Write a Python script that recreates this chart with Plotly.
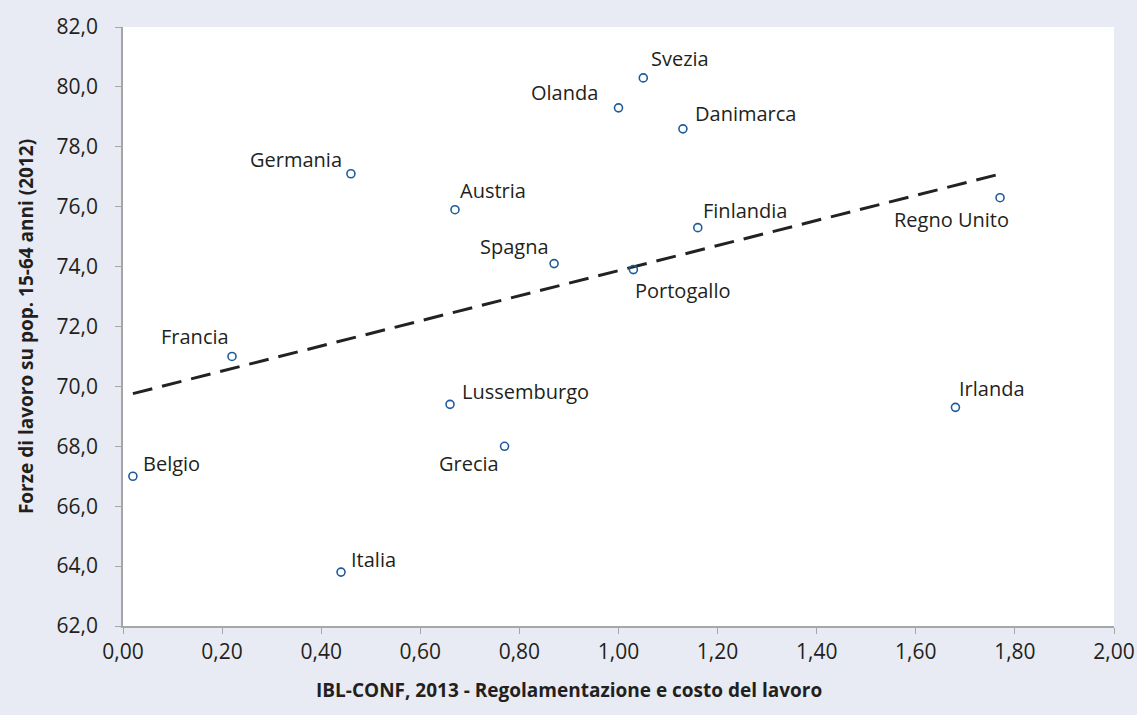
import numpy as np
import plotly.graph_objects as go

countries = ["Svezia", "Olanda", "Danimarca", "Germania", "Austria", "Spagna", "Portogallo",
             "Finlandia", "Regno Unito", "Irlanda", "Francia", "Belgio", "Lussemburgo",
             "Grecia", "Italia"]
ibl_conf = [1.05, 1.00, 1.13, 0.46, 0.67, 0.87, 1.03, 1.16, 1.77, 1.68, 0.22, 0.02, 0.66, 0.77, 0.44]
forze_lavoro = [80.3, 79.3, 78.6, 77.1, 75.9, 74.1, 73.9, 75.3, 76.3, 69.3, 71.0, 67.0, 69.4, 68.0, 63.8]

x_ticks = [0.0, 0.2, 0.4, 0.6, 0.8, 1.0, 1.2, 1.4, 1.6, 1.8, 2.0]
y_ticks = [62, 64, 66, 68, 70, 72, 74, 76, 78, 80, 82]

x_title = "IBL-CONF, 2013 - Regolamentazione e costo del lavoro"
y_title = "Forze di lavoro su pop. 15-64 anni (2012)"

# label placement (anchor, xshift, yshift) per country
label_pos = {
    "Svezia": ("left", 6, 19), "Olanda": ("right", -19, 15), "Danimarca": ("left", 10, 15),
    "Germania": ("right", -7, 14), "Austria": ("left", 3, 19), "Spagna": ("right", -3, 17),
    "Portogallo": ("left", 0, -21), "Finlandia": ("left", 3, 17), "Regno Unito": ("right", 11, -22),
    "Irlanda": ("left", 2, 19), "Francia": ("right", -1, 20), "Belgio": ("left", 8, 13),
    "Lussemburgo": ("left", 10, 13), "Grecia": ("right", -4, -17), "Italia": ("left", 8, 13),
}

FONT = "Open Sans"
TXT = "#231F20"
BG = "#E8EBF3"

fig = go.Figure()

coef = np.polyfit(ibl_conf, forze_lavoro, 1)
xl = np.array([min(ibl_conf), max(ibl_conf)])
fig.add_trace(go.Scatter(x=xl, y=np.polyval(coef, xl), mode="lines",
                         line=dict(color="#222222", width=3, dash="20px,10px"),
                         hoverinfo="skip", showlegend=False))

fig.add_trace(go.Scatter(x=ibl_conf, y=forze_lavoro, mode="markers", text=countries,
                         marker=dict(symbol="circle-open", size=8, color="#1F5C99",
                                     line=dict(width=1.6, color="#1F5C99")),
                         showlegend=False))

for c, xv, yv in zip(countries, ibl_conf, forze_lavoro):
    anc, xs, ys = label_pos[c]
    fig.add_annotation(x=xv, y=yv, text=c, showarrow=False, xanchor=anc, yanchor="middle",
                       xshift=xs, yshift=ys, font=dict(family=FONT, size=20, color=TXT))

# x-axis title centred on the whole figure, as in the reference
fig.add_annotation(xref="paper", yref="paper", x=0.45, y=-0.107, text=f"<b>{x_title}</b>",
                   showarrow=False, xanchor="center", yanchor="middle",
                   font=dict(family=FONT, size=19, color=TXT))

fig.update_layout(
    width=1137, height=715,
    margin=dict(l=123, r=23, t=27, b=89),
    paper_bgcolor=BG, plot_bgcolor="white",
    font=dict(family=FONT, color=TXT),
)
fig.update_xaxes(range=[0, 2], tickvals=x_ticks, ticktext=[f"{v:.2f}".replace(".", ",") for v in x_ticks],
                 showgrid=False, zeroline=False, showline=True, linecolor="#A6A6A6", linewidth=1.5,
                 ticks="outside", ticklen=6, tickcolor="#A6A6A6", ticklabelstandoff=0,
                 automargin=False,
                 tickfont=dict(family=FONT, size=21, color=TXT))
fig.update_yaxes(range=[62, 82], tickvals=y_ticks, ticktext=[f"{v:.1f}".replace(".", ",") for v in y_ticks],
                 showgrid=False, zeroline=False, showline=True, linecolor="#A6A6A6", linewidth=1.5,
                 ticks="outside", ticklen=6, tickcolor="#A6A6A6", ticklabelstandoff=13,
                 automargin=False,
                 tickfont=dict(family=FONT, size=21, color=TXT),
                 title=dict(text=f"<b>{y_title}</b>",
                            font=dict(family=FONT, size=19, color=TXT), standoff=18))

fig.write_html("out.html", config={"displayModeBar": False},
               post_script="document.body.style.margin='0';")
